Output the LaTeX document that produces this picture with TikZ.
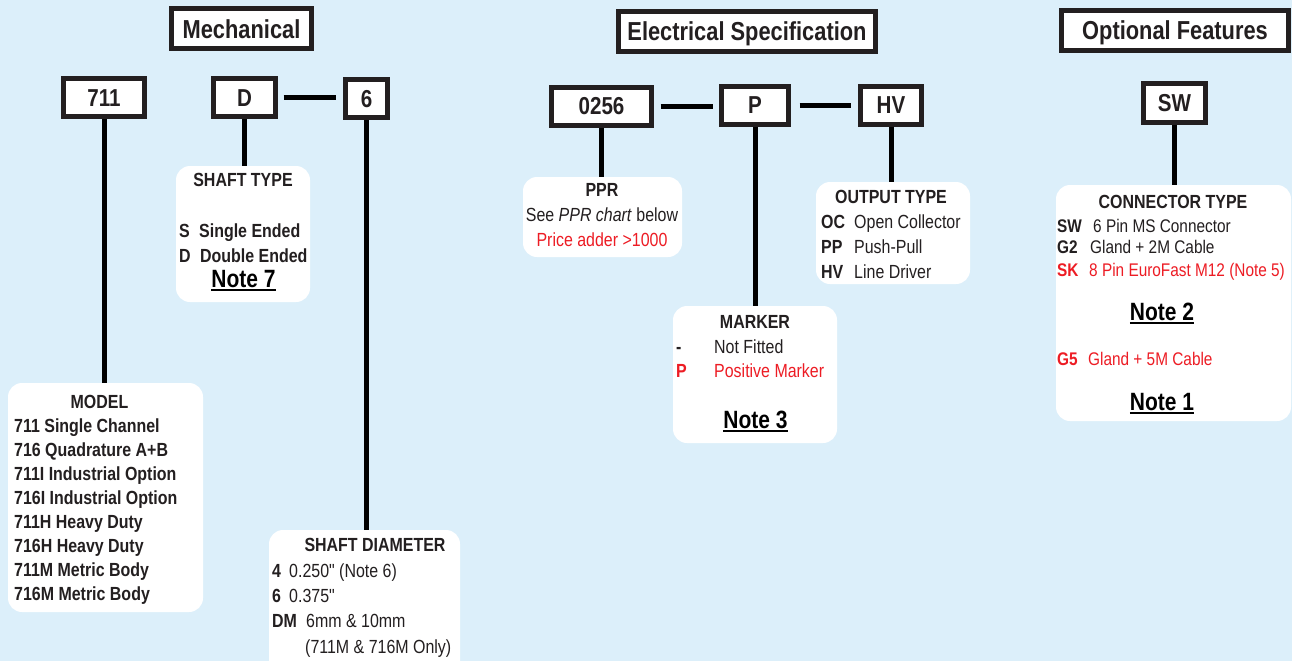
\documentclass[tikz,border=0pt]{standalone}
\usepackage{fontspec}
\setmainfont[FakeStretch=0.84, Ligatures=TeXOff]{Liberation Sans}
\definecolor{bg}{RGB}{220,239,250}
\definecolor{txt}{RGB}{35,31,32}
\definecolor{rd}{RGB}{237,28,36}
\newcommand\fsz[1]{\fontsize{#1}{#1}\selectfont}
\newcommand\cv[3]{\makebox[#1][l]{\bfseries #2}#3}
\newcommand\ulnote[1]{\setbox0\hbox{#1}\rlap{\rule[-3.5pt]{\wd0}{1.8pt}}\box0}
\tikzset{
  headbox/.style={draw=txt, line width=5pt, fill=white, inner sep=0pt,
    font=\bfseries\fsz{26}, text height=19pt, text depth=0pt, text=txt},
  codebox/.style={draw=txt, line width=5pt, fill=white, inner sep=0pt,
    font=\bfseries\fsz{24.5}, text height=17.5pt, text depth=0pt, text=txt},
  infobox/.style={fill=white, rounded corners=14pt, inner sep=0pt},
  link/.style={line width=5pt, draw=black},
  ttl/.style={anchor=base, inner sep=0pt, font=\bfseries\fsz{19}, text=txt},
  item/.style={anchor=base west, inner sep=0pt, font=\fsz{19}, text=txt},
  note/.style={anchor=base, inner sep=0pt, font=\bfseries\fsz{25}, text=black},
}
\begin{document}
\begin{tikzpicture}[x=1pt,y=-1pt]
\clip (0,0) rectangle (1292,661);
\fill[bg] (0,0) rectangle (1292,661);

% header boxes
\node[headbox, minimum width=140pt, minimum height=40pt] (hmech) at (241.5,28.5) {Mechanical};
\node[headbox, minimum width=257pt, minimum height=40pt] (helec) at (747,31.5) {Electrical Specification};
\node[headbox, minimum width=227pt, minimum height=40pt] (hopt) at (1175,30.5) {Optional Features};

% code boxes
\node[codebox, minimum width=81pt, minimum height=38pt] (c711) at (104,97.5) {711};
\node[codebox, minimum width=62pt, minimum height=38pt] (cD) at (244.5,97.5) {D};
\node[codebox, minimum width=42pt, minimum height=38pt] (c6) at (366.5,98.5) {6};
\node[codebox, minimum width=100pt, minimum height=38pt] (c0256) at (601.5,106) {0256};
\node[codebox, minimum width=67pt, minimum height=38pt] (cP) at (755,105) {P};
\node[codebox, minimum width=61pt, minimum height=38pt] (cHV) at (891,105) {HV};
\node[codebox, minimum width=62pt, minimum height=39pt] (cSW) at (1174.5,102.5) {SW};

% info boxes
\node[infobox, minimum width=134pt, minimum height=136pt] (shaft) at (243,234) {};
\node[infobox, minimum width=195pt, minimum height=229pt] (model) at (105.5,497.5) {};
\node[infobox, minimum width=191pt, minimum height=160pt] (diam) at (364.5,610) {};
\node[infobox, minimum width=159pt, minimum height=80pt] (ppr) at (602.5,217) {};
\node[infobox, minimum width=154pt, minimum height=102pt] (outp) at (893,233) {};
\node[infobox, minimum width=164pt, minimum height=137pt] (mark) at (755,374.5) {};
\node[infobox, minimum width=235pt, minimum height=236pt] (conn) at (1173.5,303) {};

% connectors
\draw[link, shorten >=7.5pt, shorten <=5.5pt] (cD.east) -- (cD.east -| c6.west);
\draw[link, shorten >=6.5pt, shorten <=6.5pt] (c0256.east) -- (c0256.east -| cP.west);
\draw[link, shorten >=7.5pt, shorten <=8.5pt] (cP.east) -- (cP.east -| cHV.west);
\draw[link] (c711.south) -- (c711.south |- model.north);
\draw[link] (cD.south) -- (cD.south |- shaft.north);
\draw[link] (c6.south) -- (c6.south |- diam.north);
\draw[link] (c0256.south) -- (c0256.south |- ppr.north);
\draw[link] (cP.south) -- (cP.south |- mark.north);
\draw[link] (cHV.south) -- (cHV.south |- outp.north);
\draw[link] (cSW.south) -- (cSW.south |- conn.north);

% SHAFT TYPE
\node[ttl] (st0) at (243,186) {SHAFT TYPE};
\node[item, font=\bfseries\fsz{19}] (st1) at (179,237) {\cv{20pt}{S}{Single Ended}};
\node[item, font=\bfseries\fsz{19}] (st2) at (179,262) {\cv{21pt}{D}{Double Ended}};
\node[note] (st3) at (243.5,287) {\ulnote{Note 7}};

% MODEL
\node[ttl] (m0) at (99.5,408) {MODEL};
\foreach \t [count=\i from 0] in {711 Single Channel,716 Quadrature A+B,711I Industrial Option,716I Industrial Option,711H Heavy Duty,716H Heavy Duty,711M Metric Body,716M Metric Body}{
  \node[item, font=\bfseries\fsz{19}] (m\i) at (14,{432+24*\i}) {\t};
}

% SHAFT DIAMETER
\node[ttl] (sd0) at (375,551) {SHAFT DIAMETER};
\node[item] (sd1) at (272,577) {\cv{17pt}{4}{0.250" (Note 6)}};
\node[item] (sd2) at (272,602) {\cv{17pt}{6}{0.375"}};
\node[item] (sd3) at (272,627) {\cv{34pt}{DM}{6mm \& 10mm}};
\node[item] (sd4) at (305,653) {(711M \& 716M Only)};

% PPR
\node[ttl] (p0) at (602,196) {PPR};
\node[ttl, font=\fsz{19}] (p1) at (602,221) {See \textit{PPR chart} below};
\node[ttl, font=\fsz{19}, text=rd] (p2) at (602,246) {Price adder >1000};

% OUTPUT TYPE
\node[ttl] (o0) at (891,203) {OUTPUT TYPE};
\node[item] (o1) at (821,228) {\cv{33pt}{OC}{Open Collector}};
\node[item] (o2) at (821,253) {\cv{33pt}{PP}{Push-Pull}};
\node[item] (o3) at (821,278) {\cv{33pt}{HV}{Line Driver}};

% MARKER
\node[ttl] (mk0) at (755,328) {MARKER};
\node[item] (mk1) at (676,353) {\cv{38pt}{-}{Not Fitted}};
\node[item, text=rd] (mk2) at (676,377) {\cv{38pt}{P}{Positive Marker}};
\node[note] (mk3) at (755.5,428) {\ulnote{Note 3}};

% CONNECTOR TYPE
\node[ttl] (ct0) at (1173,208) {CONNECTOR TYPE};
\node[item, font=\fsz{18.3}] (ct1) at (1057,232) {\cv{36pt}{SW}{6 Pin MS Connector}};
\node[item, font=\fsz{18.3}] (ct2) at (1057,253) {\cv{33pt}{G2}{Gland + 2M Cable}};
\node[item, font=\fsz{18.3}, text=rd] (ct3) at (1057,276) {\cv{32pt}{SK}{8 Pin EuroFast M12 (Note 5)}};
\node[note] (ct4) at (1162,320) {\ulnote{Note 2}};
\node[item, font=\fsz{18.3}, text=rd] (ct5) at (1057,365) {\cv{31pt}{G5}{Gland + 5M Cable}};
\node[note] (ct6) at (1162,410) {\ulnote{Note 1}};
\end{tikzpicture}
\end{document}
